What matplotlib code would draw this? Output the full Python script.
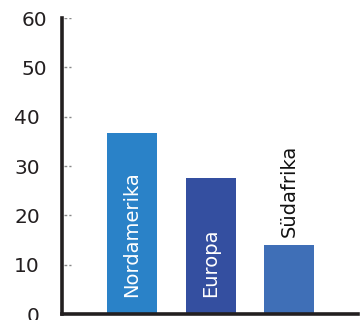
import matplotlib
matplotlib.use("Agg")
import matplotlib.pyplot as plt
from matplotlib.transforms import ScaledTranslation

regions = ["Nordamerika", "Europa", "Südafrika"]
values = [36.6, 27.6, 14.0]
colors = ["#2a82c8", "#344fa0", "#3f6fb7"]
yticks = [0, 10, 20, 30, 40, 50, 60]

plt.rcParams["font.family"] = ["DejaVu Sans"]

fig = plt.figure(figsize=(3.63, 3.2), dpi=100)
ax = fig.add_axes([62 / 363, 6 / 320, (358 - 62) / 363, (314 - 18) / 320])

x = list(range(len(regions)))
bars = ax.bar(x, values, width=0.637, color=colors, zorder=2)

ax.set_xlim(-0.892, 2.879)
ax.set_ylim(0, 60)

for spine in ["top", "right"]:
    ax.spines[spine].set_visible(False)
for spine in ["left", "bottom"]:
    ax.spines[spine].set_linewidth(2.6)
    ax.spines[spine].set_color("#231f20")
    ax.spines[spine].set_zorder(3)

ax.set_xticks([])
ax.set_yticks(yticks)
ax.tick_params(axis="y", length=0, pad=16, labelsize=14.5, labelcolor="#231f20")

# the two top labels sit a little further right
shift = ScaledTranslation(7 / 100, 0, fig.dpi_scale_trans)
for val, lab in zip(yticks, ax.get_yticklabels()):
    if val >= 50:
        lab.set_transform(lab.get_transform() + shift)

# short dotted tick marks just right of the y axis
ax.hlines(yticks[1:], 0.006, 0.032, transform=ax.get_yaxis_transform(),
          colors="#888888", linestyles=(0, (2, 1.5)), linewidth=1.0, zorder=1)

# category labels: inside tall bars, above the short one
for xi, v, name in zip(x, values, regions):
    if v > 20:
        ax.text(xi, 3.4, name, rotation=90, ha="center", va="bottom",
                color="white", fontsize=14)
    else:
        ax.text(xi, v + 1.6, name, rotation=90, ha="center", va="bottom",
                color="#111111", fontsize=14)

fig.savefig("out.png", dpi=100)
